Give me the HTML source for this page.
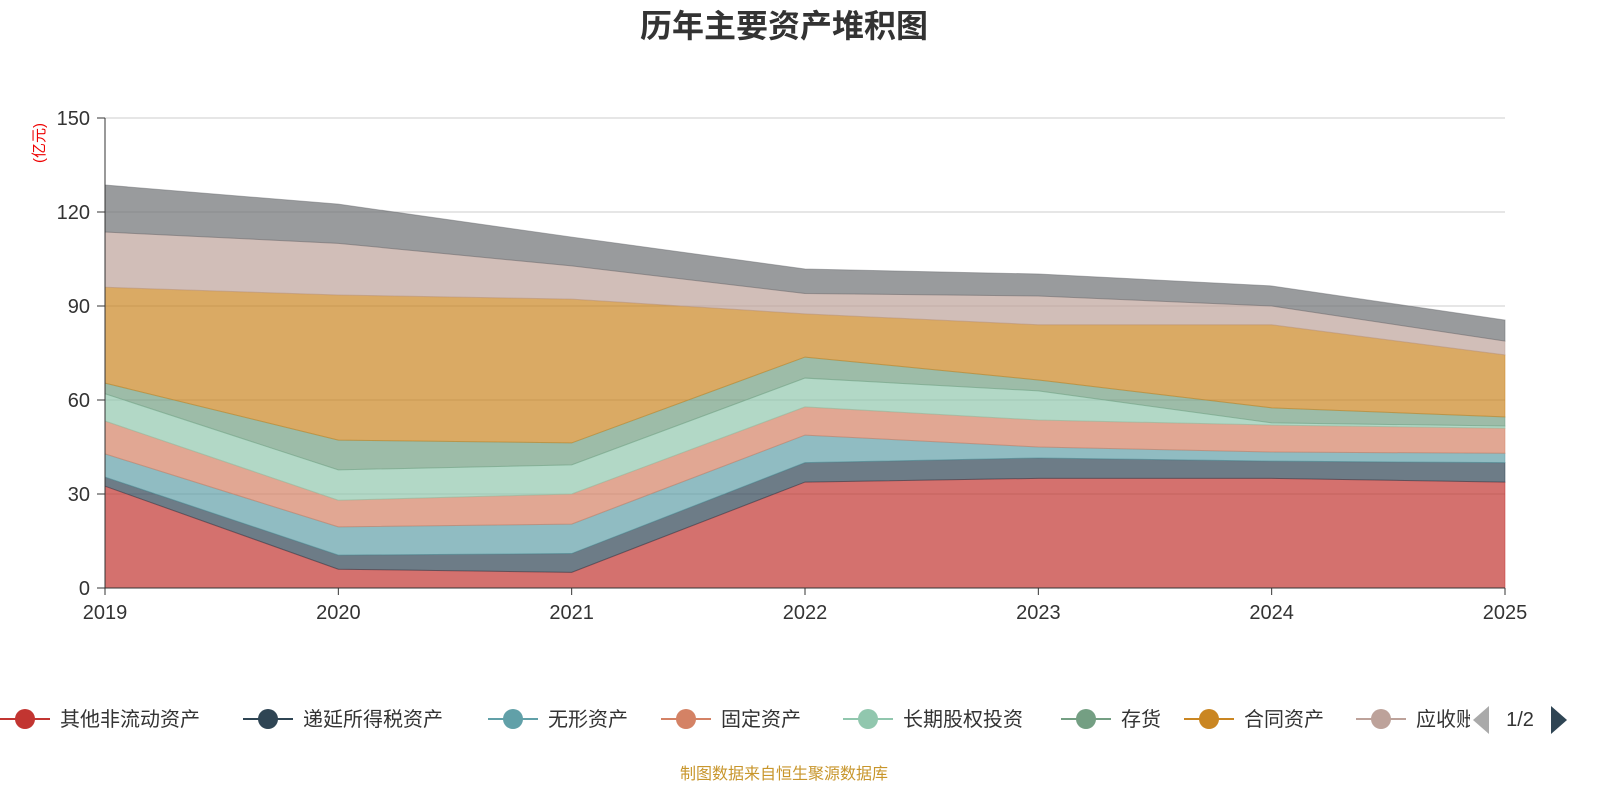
<!DOCTYPE html>
<html><head><meta charset="utf-8"><style>
body{margin:0;background:#fff;width:1600px;height:800px;overflow:hidden}
svg text{font-family:"Liberation Sans","Noto Sans CJK SC",sans-serif}
</style></head><body>
<svg id="c" width="1600" height="800"></svg>
<script>
const years=['2019','2020','2021','2022','2023','2024','2025'];
const seriesNames=['其他非流动资产','递延所得税资产','无形资产','固定资产','长期股权投资','存货','合同资产','应收账款','货币资金'];
const s0=[32.5,6,5,33.8,35,35,33.8];
const s1=[2.9,4.5,6,6.2,6.5,5.5,6.2];
const s2=[7.4,9,9.4,8.8,3.5,2.9,3];
const s3=[10.5,8.5,9.6,9,8.6,8.6,8];
const s4=[8.7,9.7,9.3,9.2,9.3,0.7,0.7];
const s5=[3.4,9.5,7,6.7,3.5,4.8,2.9];
const s6=[30.6,46.3,45.9,13.8,17.6,26.5,19.8];
const s7=[17.6,16.5,10.6,6.5,9.2,6,4.4];
const s8=[15,12.5,9.2,7.8,7,6.4,6.7];
const yTicks=[0,30,60,90,120,150];
const colors=['#c23531','#2f4554','#61a0a8','#d48265','#91c7ae','#749f83','#ca8622','#bda29a','#6e7074'];
const series=[s0,s1,s2,s3,s4,s5,s6,s7,s8];
const svg=document.getElementById('c');const NS='http://www.w3.org/2000/svg';
function mk(t,a,p){const e=document.createElementNS(NS,t);for(const k in a)e.setAttribute(k,a[k]);(p||svg).appendChild(e);return e;}
const X=i=>105+i*(1400/(years.length-1));
const Y=v=>588-v*(470/150);
let t=mk('text',{x:784,y:37,'text-anchor':'middle','font-size':32,'font-weight':'bold',fill:'#333'});t.textContent='历年主要资产堆积图';


yTicks.forEach(v=>{
 const l=mk('line',{x1:105,x2:1505,y1:Y(v),y2:Y(v),stroke:v?'#ccc':'#333','stroke-width':1});
 
 
 const tt=mk('text',{x:90,y:Y(v)+7,'text-anchor':'end','font-size':20,fill:'#333'});tt.textContent=v;
 
 
 mk('line',{x1:97,x2:105,y1:Y(v),y2:Y(v),stroke:'#333'});
});
let cum=years.map(()=>0);
series.forEach((s,k)=>{
 const lo=cum.slice();cum=cum.map((c,i)=>c+s[i]);
 let d='M'+years.map((y,i)=>X(i)+','+Y(cum[i])).join('L');
 for(let i=years.length-1;i>=0;i--)d+='L'+X(i)+','+Y(lo[i]);
 const p=mk('path',{d:d+'Z',fill:colors[k],'fill-opacity':0.7,stroke:colors[k],'stroke-opacity':0.5,'stroke-width':1});
 
 
});
mk('line',{x1:105,x2:105,y1:118,y2:588,stroke:'#333'});
mk('line',{x1:105,x2:1505,y1:588,y2:588,stroke:'#333'});
years.forEach((y,i)=>{
 mk('line',{x1:X(i),x2:X(i),y1:588,y2:595,stroke:'#333'});
 const tt=mk('text',{x:X(i),y:619,'text-anchor':'middle','font-size':20,fill:'#333'});tt.textContent=y;
 
 
});
t=mk('text',{x:0,y:0,transform:'translate(44,143) rotate(-90)','text-anchor':'middle','font-size':15,fill:'#e00'});t.textContent='(亿元)';


const lx=[25,268,513,686,868,1086,1209,1381];
const cp=mk('clipPath',{id:'lc'});
mk('rect',{x:0,y:690,width:1470,height:60},cp);
const g=mk('g',{'clip-path':'url(#lc)'});
lx.forEach((x,k)=>{
 const e=mk('g',{},g);
 
 
 mk('line',{x1:x-25,x2:x+25,y1:719,y2:719,stroke:colors[k],'stroke-width':2},e);
 mk('circle',{cx:x,cy:719,r:10,fill:colors[k]},e);
 const tt=mk('text',{x:x+35,y:726,'font-size':20,fill:'#333'},e);tt.textContent=seriesNames[k];
});
let a=mk('path',{d:'M1489,706L1489,734L1473,720Z',fill:'#aaa'});
t=mk('text',{x:1520,y:726,'text-anchor':'middle','font-size':20,fill:'#333'});t.textContent='1/2';

a=mk('path',{d:'M1551,706L1551,734L1567,720Z',fill:'#2f4554'});
t=mk('text',{x:784,y:779,'text-anchor':'middle','font-size':16,fill:'#c8962c'});t.textContent='制图数据来自恒生聚源数据库';

</script>
</body></html>
